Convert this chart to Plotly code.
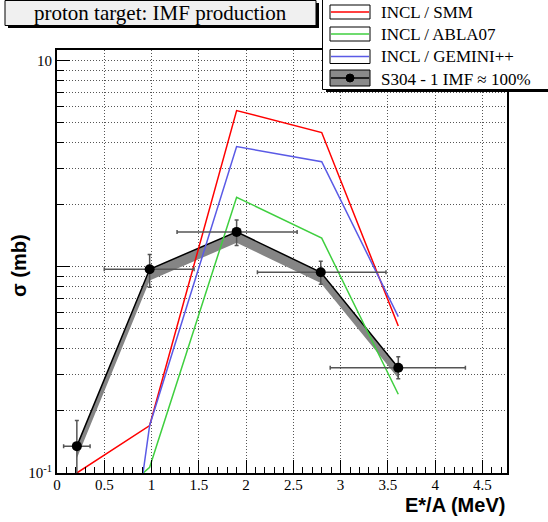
import plotly.graph_objects as go

# data
e_star = [0.21, 0.98, 1.90, 2.79, 3.61]
sigma = [0.135, 0.975, 1.48, 0.942, 0.324]
sigma_sys_lo = [0.118, 0.86, 1.31, 0.835, 0.288]
err_up = [0.045, 0.175, 0.21, 0.124, 0.043]
err_dn = [0.075, 0.178, 0.21, 0.118, 0.037]
ex_lo = [0.14, 0.48, 0.63, 0.67, 0.72]
ex_hi = [0.14, 0.47, 0.64, 0.69, 0.71]

model_x = [0.21, 0.98, 1.90, 2.80, 3.61]
smm = [0.1, 0.17, 5.74, 4.49, 0.517]
abla = [0.052, 0.1066, 2.18, 1.38, 0.241]
gemini = [0.0005, 0.17, 3.84, 3.24, 0.574]

legend_labels = ["INCL / SMM", "INCL / ABLA07", "INCL / GEMINI++", "S304 - 1 IMF \u2248 100%"]
model_colors = ["#ff0000", "#3fcf3f", "#5a5ae6"]

x_ticks = [0, 0.5, 1, 1.5, 2, 2.5, 3, 3.5, 4, 4.5]
x_ticktext = ["0", "0.5", "1", "1.5", "2", "2.5", "3", "3.5", "4", "4.5"]
y_minor = [k * 0.1 for k in range(2, 10)] + list(range(2, 10))

SERIF = "Liberation Serif, Times New Roman, serif"
SANS = "Liberation Sans, Arial, sans-serif"

# pixel frame of the plot area
L, R, T, B = 57, 507, 50, 473
W, H = 548, 522


def px(x):
    return (x - L) / (R - L)


def py(y):
    return (B - y) / (B - T)


fig = go.Figure()

# systematic band
fig.add_trace(go.Scatter(x=e_star, y=sigma_sys_lo, mode="lines", line=dict(width=0, color="#777"),
                         showlegend=False, hoverinfo="skip"))
fig.add_trace(go.Scatter(x=e_star, y=sigma, mode="lines", fill="tonexty", fillcolor="#858585",
                         line=dict(width=1.5, color="black"), showlegend=False))

for yy, col, name in zip([smm, abla, gemini], model_colors, legend_labels):
    fig.add_trace(go.Scatter(x=model_x, y=yy, mode="lines", line=dict(color=col, width=1.5),
                             name=name, showlegend=False))

fig.add_trace(go.Scatter(
    x=e_star, y=sigma, mode="markers",
    marker=dict(color="black", size=10),
    error_x=dict(type="data", symmetric=False, array=ex_hi, arrayminus=ex_lo,
                 color="#555", thickness=1.5, width=2),
    error_y=dict(type="data", symmetric=False, array=err_up, arrayminus=err_dn,
                 color="#555", thickness=1.5, width=2),
    showlegend=False,
))

shapes = []
# title box with shadow
shapes.append(dict(type="rect", xref="paper", yref="paper", x0=px(8), x1=px(319), y0=py(28), y1=py(3),
                   fillcolor="black", line=dict(width=0)))
shapes.append(dict(type="rect", xref="paper", yref="paper", x0=px(5), x1=px(316), y0=py(25.5), y1=py(0.5),
                   fillcolor="#f0f0f0", line=dict(color="black", width=1)))
# legend box with shadow
shapes.append(dict(type="rect", xref="paper", yref="paper", x0=px(326), x1=px(570), y0=py(92), y1=py(3),
                   fillcolor="black", line=dict(width=0)))
shapes.append(dict(type="rect", xref="paper", yref="paper", x0=px(322.5), x1=px(565), y0=py(89.5), y1=py(-2),
                   fillcolor="white", line=dict(color="black", width=1)))

rows = [(5, 19), (27, 41), (49.5, 63.5), (70, 86)]
for i, (y0, y1) in enumerate(rows):
    fill = "#8a8a8a" if i == 3 else "white"
    shapes.append(dict(type="rect", xref="paper", yref="paper", x0=px(330), x1=px(370), y0=py(y1), y1=py(y0),
                       fillcolor=fill, line=dict(color="black", width=1)))
    ym = (y0 + y1) / 2
    col = model_colors[i] if i < 3 else "black"
    shapes.append(dict(type="line", xref="paper", yref="paper", x0=px(331), x1=px(369), y0=py(ym), y1=py(ym),
                       line=dict(color=col, width=1.5)))
shapes.append(dict(type="circle", xref="paper", yref="paper", x0=px(346), x1=px(354), y0=py(82), y1=py(74),
                   fillcolor="black", line=dict(color="black", width=1)))

annotations = [
    dict(text="proton target: IMF production", xref="paper", yref="paper", x=px(160), y=py(13),
         showarrow=False, font=dict(family=SERIF, size=21, color="black"), xanchor="center", yanchor="middle"),
    dict(text="<b>E*/A (MeV)</b>", xref="paper", yref="paper", x=1.0, y=py(505),
         showarrow=False, font=dict(family=SANS, size=20, color="black"), xanchor="right", yanchor="middle"),
    dict(text="<b>\u03c3 (mb)</b>", xref="paper", yref="paper", x=px(19), y=py(266), textangle=-90,
         showarrow=False, font=dict(family=SANS, size=20, color="black"), xanchor="center", yanchor="middle"),
]
for lab, ym in zip(legend_labels, [12.5, 34.5, 56.5, 79]):
    annotations.append(dict(text=lab, xref="paper", yref="paper", x=px(379), y=py(ym), showarrow=False,
                            font=dict(family=SERIF, size=17, color="black"), xanchor="left", yanchor="middle"))

fig.update_layout(
    width=W, height=H,
    margin=dict(l=L, r=W - R, t=T, b=H - B, pad=0),
    plot_bgcolor="white", paper_bgcolor="white",
    shapes=shapes, annotations=annotations,
    font=dict(family=SERIF, size=15, color="black"),
)

fig.update_xaxes(
    range=[0, 4.76], tickmode="array", tickvals=x_ticks, ticktext=x_ticktext,
    ticks="inside", ticklen=13, tickwidth=1, tickcolor="black",
    showline=True, linecolor="black", linewidth=2, mirror=True,
    showgrid=True, gridcolor="#555", griddash="1px,2px", gridwidth=1,
    zeroline=False, ticklabelstandoff=-3,
    minor=dict(dtick=0.1, tick0=0, ticks="inside", ticklen=6, tickcolor="black", showgrid=False),
    tickfont=dict(family=SERIF, size=15),
)
fig.update_yaxes(
    type="log", range=[-1, 1.053], tickmode="array", tickvals=[0.1, 1, 10],
    ticktext=["10<sup>-1</sup>", "", "10"],
    ticks="inside", ticklen=13, tickwidth=1, tickcolor="black",
    showline=True, linecolor="black", linewidth=2, mirror=True,
    showgrid=True, gridcolor="#555", griddash="1px,2px", gridwidth=1,
    zeroline=False,
    minor=dict(tickmode="array", tickvals=y_minor, ticks="inside", ticklen=7, tickcolor="black",
               showgrid=True, gridcolor="#555", griddash="1px,2px", gridwidth=1),
    tickfont=dict(family=SERIF, size=15),
)

# drop the default page margin so the figure sits at the window origin
fig.write_html("out.html", config={"displayModeBar": False},
               post_script="document.body.style.margin='0';")
